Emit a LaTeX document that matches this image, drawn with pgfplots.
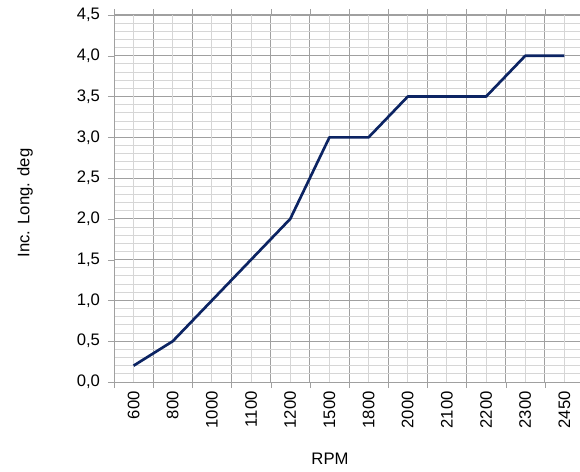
\documentclass[border=0pt]{standalone}
\usepackage{fontspec}
\setmainfont{Liberation Sans}
\usepackage{pgfplots}
\pgfplotsset{compat=1.18}
\usetikzlibrary{calc}
\definecolor{gridmajor}{HTML}{A0A0A0}
\definecolor{gridminor}{HTML}{D6D6D6}
\definecolor{navyline}{HTML}{0C2463}

\begin{document}
\begin{tikzpicture}
  \begin{axis}[
    name=ax,
    at={(0,0)}, anchor=south west,
    scale only axis,
    width=352.5pt, height=275.25pt,
    xmin=-0.5, xmax=11.5,
    ymin=0, ymax=4.5,
    font=\fontsize{12.5}{15}\selectfont,
    /pgf/number format/assume math mode=true,
    axis line style={gridmajor},
    tick style={gridmajor},
    tick align=outside,
    % category boundaries: dark grid + outward ticks
    xtick={-0.5,0.5,...,11.5},
    xticklabels={},
    major tick length=4.5pt,
    minor tick length=0pt,
    % category centres: light grid + labels
    extra x ticks={0,1,...,11},
    extra x tick labels={600,800,1000,1100,1200,1500,1800,2000,2100,2200,2300,2450},
    extra x tick style={
      major tick length=0pt,
      major grid style={gridminor, line width=0.75pt},
      tick label style={rotate=90, anchor=east, xshift=-3.5pt},
    },
    ytick={0,0.5,...,4.5},
    minor y tick num=4,
    yticklabel style={xshift=-2.5pt, /pgf/number format/.cd, fixed, fixed zerofill, precision=1, use comma},
    xmajorgrids, ymajorgrids, yminorgrids,
    major grid style={gridmajor, line width=0.75pt},
    minor grid style={gridminor, line width=0.75pt},
    xlabel={RPM},
    xlabel style={at={(axis description cs:0.4596,-0.2098)}, anchor=center},
    ylabel={Inc. Long. deg},
    ylabel style={at={(axis description cs:-0.1894,0.4877)}, anchor=center, rotate=0},
  ]
    \addplot[navyline, line width=2pt, line join=round] coordinates {
      (0,0.2) (1,0.5) (2,1.0) (3,1.5) (4,2.0) (5,3.0)
      (6,3.0) (7,3.5) (8,3.5) (9,3.5) (10,4.0) (11,4.0)
    };
  \end{axis}
  \pgfresetboundingbox
  \useasboundingbox ($(ax.south west)+(-85.5pt,-66.75pt)$) rectangle ($(ax.south west)+(349.5pt,286.5pt)$);
\end{tikzpicture}
\end{document}
